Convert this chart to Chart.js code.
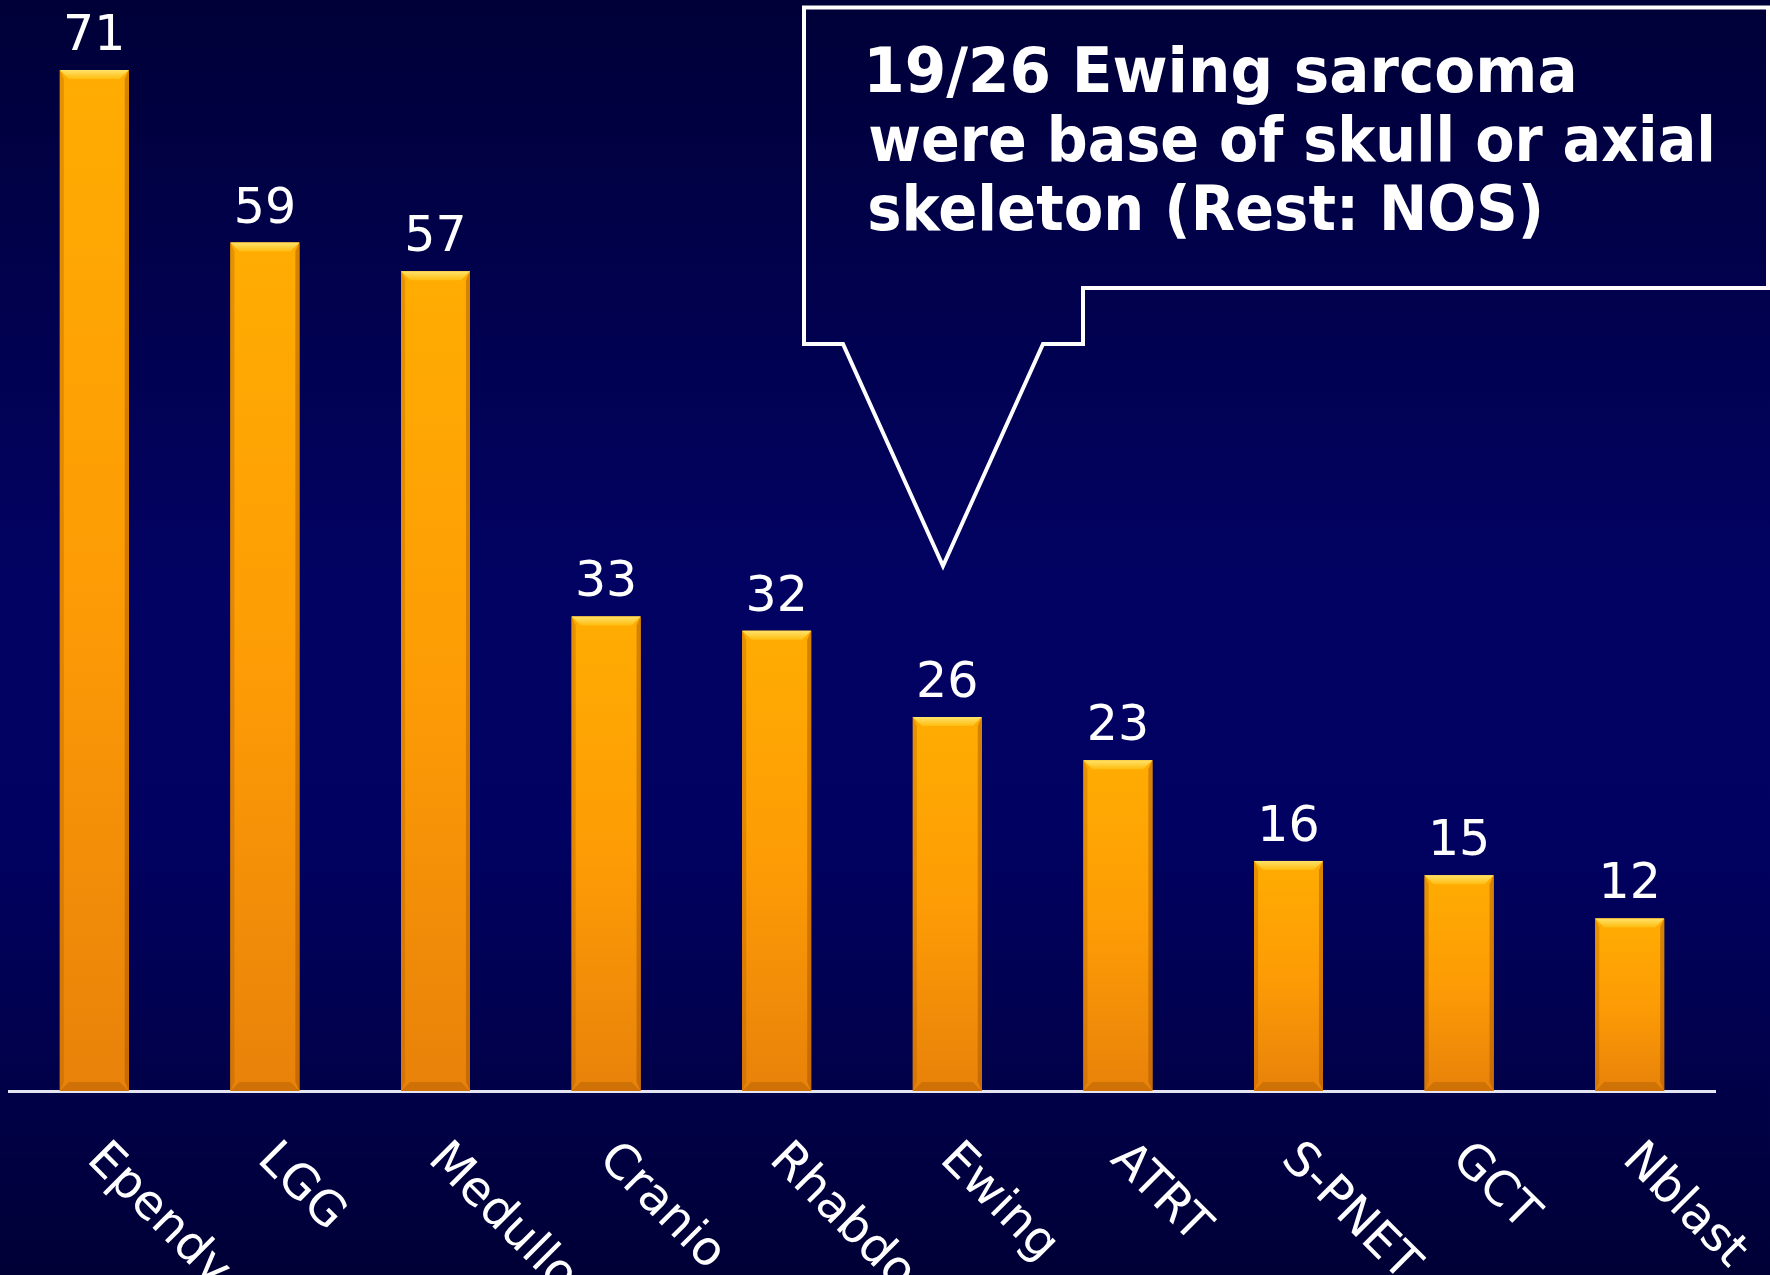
<!DOCTYPE html>
<html>
<head>
<meta charset="utf-8">
<script src="https://cdn.jsdelivr.net/npm/chart.js@4/dist/chart.umd.min.js"></script>
<style>
  html, body { margin: 0; padding: 0; background: #000040; }
  #wrap { width: 1770px; height: 1275px; }
</style>
</head>
<body>
<div id="wrap"><canvas id="myChart" width="1770" height="1275"></canvas></div>
<script>
// data
var categories = ['Ependy', 'LGG', 'Medullo', 'Cranio', 'Rhabdo', 'Ewing', 'ATRT', 'S-PNET', 'GCT', 'Nblast'];
var counts = [71, 59, 57, 33, 32, 26, 23, 16, 15, 12];
var calloutLines = ['19/26 Ewing sarcoma', 'were base of skull or axial', 'skeleton (Rest: NOS)'];

var ctx = document.getElementById('myChart').getContext('2d');

// dark blue slide background
var slideBackground = {
  id: 'slideBackground',
  beforeDraw: function (chart) {
    var c = chart.ctx;
    var g = c.createLinearGradient(0, 0, 0, chart.height);
    g.addColorStop(0, '#000038');
    g.addColorStop(0.45, '#020262');
    g.addColorStop(0.65, '#010162');
    g.addColorStop(1, '#000036');
    c.save();
    c.fillStyle = g;
    c.fillRect(0, 0, chart.width, chart.height);
    c.restore();
  }
};

// bevelled orange bars + value labels
var bevelBars = {
  id: 'bevelBars',
  afterDatasetsDraw: function (chart) {
    var c = chart.ctx;
    var meta = chart.getDatasetMeta(0);
    meta.data.forEach(function (bar, i) {
      var L = bar.x - bar.width / 2, R = bar.x + bar.width / 2;
      var T = bar.y, B = bar.base;
      var b = 9;
      c.save();
      var g = c.createLinearGradient(0, T, 0, B);
      g.addColorStop(0, '#ffac02');
      g.addColorStop(0.5, '#fd9c05');
      g.addColorStop(1, '#e8820a');
      c.fillStyle = g;
      c.fillRect(L, T, R - L, B - T);

      // side shading
      c.fillStyle = 'rgba(170,85,0,0.3)';
      c.beginPath(); c.moveTo(L, T); c.lineTo(L + 4, T + b); c.lineTo(L + 4, B - b); c.lineTo(L, B); c.closePath(); c.fill();
      c.fillStyle = 'rgba(150,70,0,0.4)';
      c.beginPath(); c.moveTo(R, T); c.lineTo(R - 4, T + b); c.lineTo(R - 4, B - b); c.lineTo(R, B); c.closePath(); c.fill();

      // top highlight
      var gt = c.createLinearGradient(0, T, 0, T + b);
      gt.addColorStop(0, '#ffe36a');
      gt.addColorStop(1, '#ffbc10');
      c.fillStyle = gt;
      c.beginPath(); c.moveTo(L, T); c.lineTo(R, T); c.lineTo(R - b, T + b); c.lineTo(L + b, T + b); c.closePath(); c.fill();

      // bottom shade
      c.fillStyle = 'rgba(150,75,0,0.3)';
      c.beginPath(); c.moveTo(L, B); c.lineTo(R, B); c.lineTo(R - b, B - b); c.lineTo(L + b, B - b); c.closePath(); c.fill();

      // value
      c.fillStyle = '#ffffff';
      c.font = '49px "DejaVu Sans"';
      c.textAlign = 'center';
      c.textBaseline = 'alphabetic';
      c.fillText(String(counts[i]), bar.x, T - 20);
      c.restore();
    });
  }
};

// rotated category labels (text runs down to the right)
var slantLabels = {
  id: 'slantLabels',
  afterDraw: function (chart) {
    var c = chart.ctx;
    var xs = chart.scales.x;
    var size = 48;
    c.save();
    c.fillStyle = '#ffffff';
    c.font = size + 'px "DejaVu Sans"';
    c.textAlign = 'left';
    c.textBaseline = 'alphabetic';
    categories.forEach(function (lab, i) {
      var cx = xs.getPixelForValue(i);
      c.save();
      c.translate(cx + 16, 1136);
      c.rotate(Math.PI / 4);
      c.fillText(lab, 0, size * 0.73);
      c.restore();
    });
    c.restore();
  }
};

// speech-bubble callout pointing at Ewing
var callout = {
  id: 'callout',
  afterDraw: function (chart) {
    var c = chart.ctx;
    c.save();
    c.strokeStyle = '#ffffff';
    c.lineWidth = 4;
    c.lineJoin = 'miter';
    c.beginPath();
    c.moveTo(804, 7.5);
    c.lineTo(1768, 7.5);
    c.lineTo(1768, 288);
    c.lineTo(1083, 288);
    c.lineTo(1083, 344);
    c.lineTo(1043, 344);
    c.lineTo(943, 566);
    c.lineTo(843, 344);
    c.lineTo(804, 344);
    c.closePath();
    c.stroke();

    c.fillStyle = '#ffffff';
    c.font = 'bold 62px "DejaVu Sans"';
    c.textAlign = 'left';
    c.textBaseline = 'alphabetic';
    var inkRight = [1573, 1712, 1540];
    var baselines = [92, 161, 230];
    calloutLines.forEach(function (t, i) {
      var m = c.measureText(t);
      var ink = m.actualBoundingBoxRight + m.actualBoundingBoxLeft;
      var sx = (inkRight[i] - 870) / ink;
      c.save();
      c.translate(870, baselines[i]);
      c.scale(sx, 1);
      c.fillText(t, m.actualBoundingBoxLeft, 0);
      c.restore();
    });
    c.restore();
  }
};

var myChart = new Chart(ctx, {
  type: 'bar',
  data: {
    labels: categories,
    datasets: [{
      label: 'Cases',
      data: counts,
      backgroundColor: '#fb9a06',
      borderWidth: 0,
      categoryPercentage: 1,
      barPercentage: 0.404
    }]
  },
  options: {
    responsive: false,
    animation: false,
    layout: {
      padding: { left: 9, right: 55, top: 12.5, bottom: 176 }
    },
    scales: {
      x: {
        grid: { display: false },
        border: { display: true, color: '#e4e4f2', width: 3 },
        ticks: { display: false }
      },
      y: {
        display: false,
        min: 0,
        max: 75
      }
    },
    plugins: {
      legend: { display: false },
      tooltip: { enabled: false }
    }
  },
  plugins: [slideBackground, bevelBars, slantLabels, callout]
});
</script>
</body>
</html>
